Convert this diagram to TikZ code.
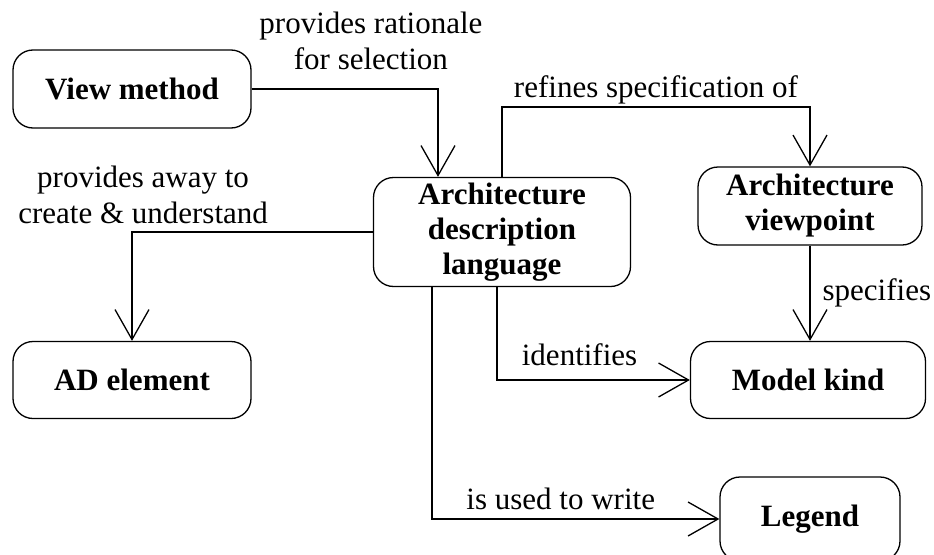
\documentclass[tikz,border=0pt]{standalone}
\usepackage{fontspec}
\setmainfont{Liberation Serif}
\usetikzlibrary{
    arrows.meta,
    positioning
}
\tikzset{
    concept/.style={draw, rounded corners=20pt, line width=1.3pt, align=center,
        inner sep=0pt, font=\bfseries\fontsize{31}{35}\selectfont},
    rel/.style={line width=1.3pt, -{Straight Barb[length=30pt,width=34pt,line width=1.3pt]}},
    lbl/.style={inner sep=0pt, align=center, font=\fontsize{31}{36}\selectfont}
}

\begin{document}
\begin{tikzpicture}[x=1pt,y=-1pt]
        \useasboundingbox (0,0) rectangle (934,554);

        \node[concept, minimum width=238pt, minimum height=78pt]  (vm)  at (132,89)  {View method};
        \node[concept, minimum width=257pt, minimum height=109pt] (adl) at (502,232) {Architecture\\description\\language};
        \node[concept, minimum width=224pt, minimum height=78pt]  (avp) at (810,206) {Architecture\\viewpoint};
        \node[concept, minimum width=238pt, minimum height=77pt]  (ade) at (132,380) {AD element};
        \node[concept, minimum width=235pt, minimum height=77pt]  (mk)  at (808,380) {Model kind};
        \node[concept, minimum width=180pt, minimum height=84pt]  (leg) at (810,519) {Legend};

        \draw[rel] (vm.east) -| node[lbl, pos=0.32, above=19pt] (lrat) {provides rationale\\for selection} ([xshift=-64pt]adl.north);
        \draw[rel] (adl.north) -- ++(0,-70) -| node[lbl, pos=0.25, above=2pt] (lref) {refines specification of} (avp.north);
        \draw[rel] (adl.west) -| node[lbl, pos=0.477, above=8pt] (lway) {provides away to\\create \& understand} (ade.north);
        \draw[rel] ([xshift=-5pt]adl.south) |- node[lbl, pos=0.714, above=14pt] (lid) {identifies} (mk.west);
        \draw[rel] ([xshift=-70pt]adl.south) |- node[lbl, pos=0.724, above=9pt] (luse) {is used to write} (leg.west);
        \draw[rel] (avp.south) -- node[lbl, right=12pt] (lspec) {specifies} (avp.south |- mk.north);
    \end{tikzpicture}
\end{document}
